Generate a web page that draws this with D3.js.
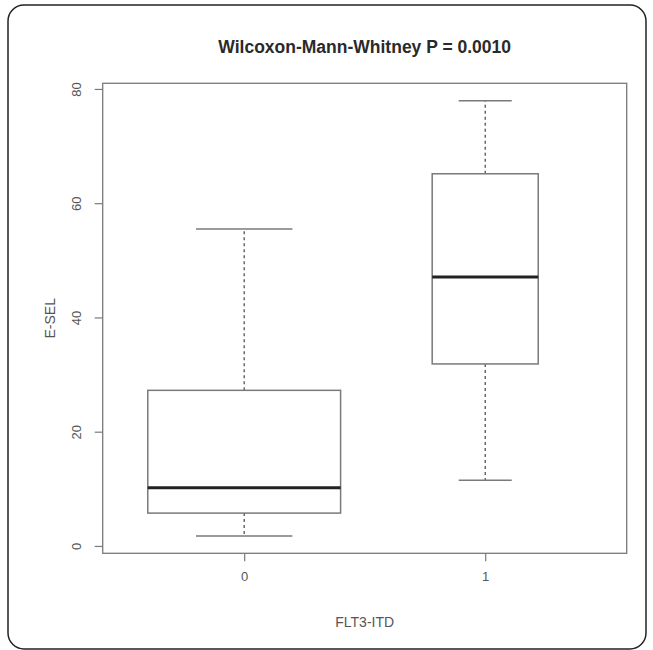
<!DOCTYPE html>
<html>
<head>
<meta charset="utf-8">
<script src="https://cdn.jsdelivr.net/npm/d3@7"></script>
<style>
  html, body { margin: 0; padding: 0; background: #fff; }
  svg { display: block; }
</style>
</head>
<body>
<svg id="chart" width="653" height="650"></svg>
<script>
// ---- data ----
const groups = ["0", "1"];
const groupPos = [0, 1];
const lowerWhisker = [1.76, 11.48];
const q1 = [5.75, 31.86];
const median = [10.19, 47.1];
const q3 = [27.24, 65.15];
const upperWhisker = [55.5, 77.94];
const boxWidth = [0.80, 0.44];          // relative box widths (varwidth)
const yTicks = [0, 20, 40, 60, 80];
const title = "Wilcoxon-Mann-Whitney P = 0.0010";
const xTitle = "FLT3-ITD";
const yTitle = "E-SEL";

// ---- layout ----
const svg = d3.select("#chart");
const plot = { left: 102.7, right: 626.7, top: 83.3, bottom: 553.3 };

const lo = d3.min(lowerWhisker), hi = d3.max(upperWhisker);
const pad = 0.04 * (hi - lo);
const y = d3.scaleLinear().domain([lo - pad, hi + pad]).range([plot.bottom, plot.top]);
const x = d3.scaleLinear().domain([-0.587, 1.587]).range([plot.left, plot.right]);
const unit = x(1) - x(0);

const gray = "#7a7a7a";
const textCol = "#555";
const font = "'Liberation Sans', Arial, sans-serif";

// outer rounded frame
svg.append("rect")
  .attr("x", 8).attr("y", 5).attr("width", 638).attr("height", 644)
  .attr("rx", 16).attr("ry", 16)
  .attr("fill", "none").attr("stroke", "#222").attr("stroke-width", 1.5);

// title
svg.append("text")
  .attr("x", (plot.left + plot.right) / 2).attr("y", 53)
  .attr("text-anchor", "middle")
  .attr("font-family", font).attr("font-weight", "bold").attr("font-size", 17.5)
  .attr("fill", "#2a2a2a")
  .text(title);

// plot frame
svg.append("rect")
  .attr("x", plot.left).attr("y", plot.top)
  .attr("width", plot.right - plot.left).attr("height", plot.bottom - plot.top)
  .attr("fill", "none").attr("stroke", gray).attr("stroke-width", 1.3);

// y axis
const yAxis = d3.axisLeft(y).tickValues(yTicks).tickSize(8);
const gy = svg.append("g").attr("transform", `translate(${plot.left},0)`).call(yAxis);
gy.select(".domain").remove();
gy.selectAll(".tick line").attr("stroke", gray).attr("stroke-width", 1.2);
gy.selectAll(".tick text")
  .attr("font-family", font).attr("font-size", 13).attr("fill", textCol)
  .attr("x", null).attr("y", null)
  .attr("transform", "translate(-26,0) rotate(-90)")
  .attr("text-anchor", "middle").attr("dy", "0.35em");

// x axis
const xAxis = d3.axisBottom(x).tickValues(groupPos).tickFormat((d, i) => groups[i]).tickSize(8).tickPadding(10);
const gx = svg.append("g").attr("transform", `translate(0,${plot.bottom})`).call(xAxis);
gx.select(".domain").remove();
gx.selectAll(".tick line").attr("stroke", gray).attr("stroke-width", 1.2);
gx.selectAll(".tick text").attr("font-family", font).attr("font-size", 13).attr("fill", textCol);

// axis titles
svg.append("text")
  .attr("x", (plot.left + plot.right) / 2).attr("y", 627)
  .attr("text-anchor", "middle")
  .attr("font-family", font).attr("font-size", 14).attr("fill", textCol)
  .text(xTitle);
svg.append("text")
  .attr("transform", `translate(55,${(plot.top + plot.bottom) / 2}) rotate(-90)`)
  .attr("text-anchor", "middle")
  .attr("font-family", font).attr("font-size", 14).attr("fill", textCol)
  .text(yTitle);

// boxes
const data = groups.map((g, i) => ({
  pos: groupPos[i], lw: lowerWhisker[i], q1: q1[i], med: median[i],
  q3: q3[i], uw: upperWhisker[i], w: boxWidth[i]
}));

const gb = svg.append("g").selectAll("g").data(data).join("g");

// whiskers (dashed)
gb.append("line")
  .attr("x1", d => x(d.pos)).attr("x2", d => x(d.pos))
  .attr("y1", d => y(d.q3)).attr("y2", d => y(d.uw))
  .attr("stroke", "#444").attr("stroke-width", 1.2).attr("stroke-dasharray", "3,3");
gb.append("line")
  .attr("x1", d => x(d.pos)).attr("x2", d => x(d.pos))
  .attr("y1", d => y(d.q1)).attr("y2", d => y(d.lw))
  .attr("stroke", "#444").attr("stroke-width", 1.2).attr("stroke-dasharray", "3,3");
// caps
gb.append("line")
  .attr("x1", d => x(d.pos) - d.w * unit / 4).attr("x2", d => x(d.pos) + d.w * unit / 4)
  .attr("y1", d => y(d.uw)).attr("y2", d => y(d.uw))
  .attr("stroke", gray).attr("stroke-width", 1.5);
gb.append("line")
  .attr("x1", d => x(d.pos) - d.w * unit / 4).attr("x2", d => x(d.pos) + d.w * unit / 4)
  .attr("y1", d => y(d.lw)).attr("y2", d => y(d.lw))
  .attr("stroke", gray).attr("stroke-width", 1.5);
// box
gb.append("rect")
  .attr("x", d => x(d.pos) - d.w * unit / 2)
  .attr("width", d => d.w * unit)
  .attr("y", d => y(d.q3))
  .attr("height", d => y(d.q1) - y(d.q3))
  .attr("fill", "none").attr("stroke", gray).attr("stroke-width", 1.5);
// median
gb.append("line")
  .attr("x1", d => x(d.pos) - d.w * unit / 2).attr("x2", d => x(d.pos) + d.w * unit / 2)
  .attr("y1", d => y(d.med)).attr("y2", d => y(d.med))
  .attr("stroke", "#222").attr("stroke-width", 3);
</script>
</body>
</html>
